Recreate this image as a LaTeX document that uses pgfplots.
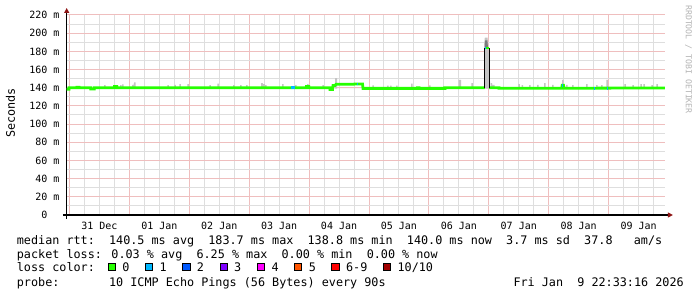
\documentclass[border=0pt]{standalone}
\usepackage{fontspec}
\setmainfont{DejaVu Sans Mono}
\usepackage{pgfplots}
\pgfplotsset{compat=1.18}
\usetikzlibrary{arrows.meta}
\definecolor{lossA}{HTML}{26FF00}
\definecolor{lossB}{HTML}{00B8FF}
\definecolor{lossC}{HTML}{0059FF}
\definecolor{lossD}{HTML}{7E00FF}
\definecolor{lossE}{HTML}{FF00FF}
\definecolor{lossF}{HTML}{FF5500}
\definecolor{lossG}{HTML}{FF0000}
\definecolor{lossH}{HTML}{A10000}
\definecolor{smoke}{HTML}{C4C4C4}
\definecolor{smokedark}{HTML}{7A7A7A}
\definecolor{gridred}{HTML}{EFBEBE}
\definecolor{gridgray}{HTML}{DEDEDE}
\definecolor{arrowred}{HTML}{8E1515}
\definecolor{wmgray}{HTML}{B4B4B4}
\newcommand\legfont{\fontsize{11.78}{14}\selectfont}
\newcommand\tickfont{\fontsize{10}{12}\selectfont}
\newcommand\wmfont{\fontsize{8.2}{10}\selectfont}
\begin{document}
\begin{tikzpicture}
\path[use as bounding box] (0,0) rectangle (697pt,297pt);
\fill[white] (0,0) rectangle (697pt,297pt);
\begin{axis}[
  at={(66.7pt,82pt)}, anchor=south west,
  scale only axis, width=598.2pt, height=200pt,
  xmin=-1.12, xmax=238.55, ymin=0, ymax=220,
  axis lines=left,
  x axis line style={line width=1.2pt, -{Triangle[length=5pt,width=5pt,color=arrowred]}, shorten >=-8pt, shorten <=-3.7pt},
  y axis line style={line width=1.2pt, -{Triangle[length=5pt,width=5pt,color=arrowred]}, shorten >=-7pt, shorten <=-4pt},
  xtick={0,24,...,216},
  xticklabels={},
  minor xtick={6,12,18,30,36,42,54,60,66,78,84,90,102,108,114,126,132,138,150,156,162,174,180,186,198,204,210,222,228,234},
  extra x ticks={12,36,...,228},
  extra x tick labels={31 Dec,01 Jan,02 Jan,03 Jan,04 Jan,05 Jan,06 Jan,07 Jan,08 Jan,09 Jan},
  extra x tick style={grid=none},
  ytick={0,20,...,220},
  yticklabels={0\phantom{~m},20 m,40 m,60 m,80 m,100 m,120 m,140 m,160 m,180 m,200 m,220 m},
  minor ytick={10,30,...,210},
  grid=both,
  major grid style={gridred, line width=1pt},
  minor grid style={gridgray, line width=1pt},
  major tick length=0pt, minor tick length=0pt,
  tick label style={font=\tickfont, text=black},
  xticklabel style={anchor=north, inner sep=0pt, yshift=-6.7pt},
  yticklabel style={anchor=east, inner sep=0pt, xshift=-7pt},
  ylabel={Seconds},
  ylabel style={at={(axis description cs:-0.0939,0.51)}, anchor=center, font=\legfont, inner sep=0pt},
  legend columns=-1,
  legend cell align=left,
  legend image code/.code={\draw[draw=black, line width=0.7pt, #1] (0pt,-2.1pt) rectangle (7.3pt,5.2pt);},
  legend style={draw=none, fill=none, inner sep=0pt, outer sep=0pt,
    at={(axis description cs:0.06845,-0.267)}, anchor=west, font=\legfont,
    nodes={inner sep=0pt, text height=9.2pt, text depth=2pt},
    /tikz/every odd column/.style={column sep=6.65pt},
    /tikz/every even column/.style={column sep=15.56pt}},
]
% smoke (ping spread above the median)
\addplot[forget plot, fill=smoke, draw=none] coordinates {
(-1.12,139)
(13.9,139)(13.9,142.8)(14.5,142.8)(14.5,139)
(20.3,139)(20.3,142.8)(20.9,142.8)(20.9,139)(21.1,139)(21.1,143.7)(21.7,143.7)(21.7,139)
(25.1,139)(25.1,143.0)(25.7,143.0)(25.9,146.0)(26.5,146.0)(26.5,139)
(39.2,139)(39.2,142.8)(39.8,142.8)(39.8,139)
(42.0,139)(42.0,143.2)(42.6,143.2)(42.6,139)
(44.0,139)(44.0,144.0)(44.6,144.0)(44.6,139)
(47.2,139)(47.2,144.0)(47.8,144.0)(47.8,139)
(56.0,139)(56.0,142.8)(56.6,142.8)(56.6,139)
(59.2,139)(59.2,144.5)(59.8,144.5)(59.8,139)
(65.6,139)(65.6,142.8)(66.2,142.8)(66.2,139)
(68.4,139)(68.4,142.8)(69.0,142.8)(69.0,139)
(70.8,139)(70.8,142.8)(71.4,142.8)(71.4,139)
(76.8,139)(76.8,145.0)(77.4,145.0)(77.6,144.0)(78.2,144.0)(78.4,142.8)(79.0,142.8)(79.0,139)
(85.2,139)(85.2,144.0)(85.8,144.0)(85.8,139)
(90.4,139)(90.4,142.8)(91.0,142.8)(91.0,139)
(95.2,139)(95.2,144.0)(95.8,144.0)(95.8,139)
(101.3,139)(101.3,142.8)(101.9,142.8)(101.9,139)
(106.4,139)(106.4,150.5)(107.2,150.5)(107.2,139)
(121.3,139)(121.3,142.5)(121.9,142.5)(121.9,139)
(127.3,139)(127.3,142.2)(127.9,142.2)(127.9,139)
(128.5,139)(128.5,142.2)(129.1,142.2)(129.1,139)
(130.9,139)(130.9,142.2)(131.5,142.2)(131.5,139)
(136.9,139)(136.9,144.5)(137.5,144.5)(137.5,139)
(144.1,139)(144.1,142.5)(144.7,142.5)(144.7,139)
(155.9,139)(155.9,148.5)(156.9,148.5)(156.9,139)
(161.0,139)(161.0,145.0)(161.6,145.0)(161.6,139)
(168.7,139)(168.7,145.0)(169.3,145.0)(169.4,143.0)(170.3,143.0)(170.3,139)
(179.8,139)(179.8,144.0)(180.4,144.0)(180.4,139)
(181.1,139)(181.1,142.8)(181.7,142.8)(181.7,139)
(184.2,139)(184.2,142.8)(184.8,142.8)(184.8,139)
(187.4,139)(187.4,143.0)(188.0,143.0)(188.0,139)
(190.2,139)(190.2,145.0)(190.8,145.0)(190.8,139)
(193.4,139)(193.4,143.0)(194.0,143.0)(194.0,139)
(197.4,139)(197.4,148.5)(198.0,148.5)(198.0,139)
(199.0,139)(199.0,143.0)(199.6,143.0)(199.6,139)
(201.4,139)(201.4,142.8)(202.0,142.8)(202.0,139)
(207.0,139)(207.0,144.0)(207.6,144.0)(207.6,139)
(211.0,139)(211.0,142.8)(211.6,142.8)(211.6,139)
(213.0,139)(213.0,142.8)(213.6,142.8)(213.6,139)
(215.1,139)(215.1,148.5)(215.7,148.5)(215.7,139)
(222.3,139)(222.3,144.0)(222.9,144.0)(222.9,139)
(225.5,139)(225.5,142.8)(226.1,142.8)(226.1,139)
(228.7,139)(228.7,144.0)(229.3,144.0)(229.3,139)
(229.9,139)(229.9,144.0)(230.5,144.0)(230.5,139)
(233.1,139)(233.1,142.8)(233.7,142.8)(233.7,139)
(235.1,139)(235.1,144.0)(235.7,144.0)(235.7,139)
(238.55,139)};
% smoke of the 06 Jan spike
\addplot[forget plot, fill=smoke, draw=none] coordinates {
(166.1,139)(166.1,187)(166.4,195)(167.5,195)(167.9,182)(168.3,160)(168.5,145)(168.6,139)};
\addplot[forget plot, fill=smokedark, draw=none] coordinates {
(166.4,184)(166.5,192)(167.4,192)(167.7,184)};
% median rtt, loss 0 (green)
\addplot[forget plot, lossA, line width=2.8pt] coordinates {
(-1.12,138.4)(-0.2,138.4)(-0.2,140.0)(3.0,140.0)(3.0,140.6)(3.8,140.6)(3.8,140.0)
(8.5,140.0)(8.5,138.5)(9.9,138.5)(9.9,140.0)(18.0,140.0)(18.0,141.2)(18.9,141.2)(18.9,140.0)
(95.0,140.0)(95.0,141.4)(95.8,141.4)(95.8,140.0)(104.4,140.0)(104.4,138.2)(105.4,138.2)
(105.6,142.5)(106.4,142.5)(106.8,143.8)(114.0,143.8)(114.2,144.2)(117.4,144.2)(117.6,139.3)
(139.4,139.3)(139.4,140.0)(140.0,140.0)(140.0,139.3)(150.4,139.3)(150.4,139.9)(166.4,139.9)};
\addplot[forget plot, lossA, line width=2.8pt] coordinates {
(168.1,140.0)(172.1,140.0)(172.1,139.4)(197.2,139.4)(197.4,142.8)(197.9,142.8)(198.1,139.4)(238.55,139.8)};
% spike
\addplot[forget plot, black, line width=1pt] coordinates {(166.3,139.9)(166.3,183.7)};
\addplot[forget plot, black, line width=1pt] coordinates {(168.2,183.7)(168.2,140.0)};
\addplot[forget plot, lossA, line width=2.8pt] coordinates {(166.7,183.7)(168.1,183.7)};
% loss 1 (one ping lost)
\addplot[forget plot, lossB, line width=2.8pt] coordinates {(166.3,183.7)(166.8,183.7)};
\addplot[forget plot, lossB, line width=2.8pt] coordinates {(88.7,140.0)(90.3,140.0)};
\addplot[forget plot, lossB, line width=2.8pt] coordinates {(115.0,144.2)(115.4,144.2)};
\addplot[forget plot, lossB, line width=2.8pt] coordinates {(197.4,142.8)(197.9,142.8)};
\addplot[forget plot, lossB, line width=2.8pt] coordinates {(210.0,139.4)(210.4,139.4)};
\addplot[forget plot, lossB, line width=2.8pt] coordinates {(215.2,139.4)(215.6,139.4)};
% loss colour legend
\addlegendimage{fill=lossA}\addlegendentry{0}
\addlegendimage{fill=lossB}\addlegendentry{1}
\addlegendimage{fill=lossC}\addlegendentry{2}
\addlegendimage{fill=lossD}\addlegendentry{3}
\addlegendimage{fill=lossE}\addlegendentry{4}
\addlegendimage{fill=lossF}\addlegendentry{5}
\addlegendimage{fill=lossG}\addlegendentry{6-9}
\addlegendimage{fill=lossH}\addlegendentry{10/10}
\end{axis}
\begin{scope}[every node/.style={anchor=base west, inner sep=0pt, font=\legfont}]
\node at (16.7pt,52.7pt) {median rtt:~~140.5 ms avg~~183.7 ms max~~138.8 ms min~~140.0 ms now~~3.7 ms sd~~37.8~~~am/s};
\node at (16.7pt,38.6pt) {packet loss: 0.03 \% avg~~6.25 \% max~~0.00 \% min~~0.00 \% now};
\node at (16.7pt,25pt) {loss color:};
\node at (16.7pt,10.3pt) {probe:~~~~~~~10 ICMP Echo Pings (56 Bytes) every 90s};
\node at (513.3pt,10.3pt) {Fri Jan~~9 22:33:16 2026};
\end{scope}
\node[anchor=west, rotate=-90, inner sep=0pt, font=\wmfont, text=wmgray] at (688.5pt,292pt) {RRDTOOL / TOBI OETIKER};
\end{tikzpicture}
\end{document}
